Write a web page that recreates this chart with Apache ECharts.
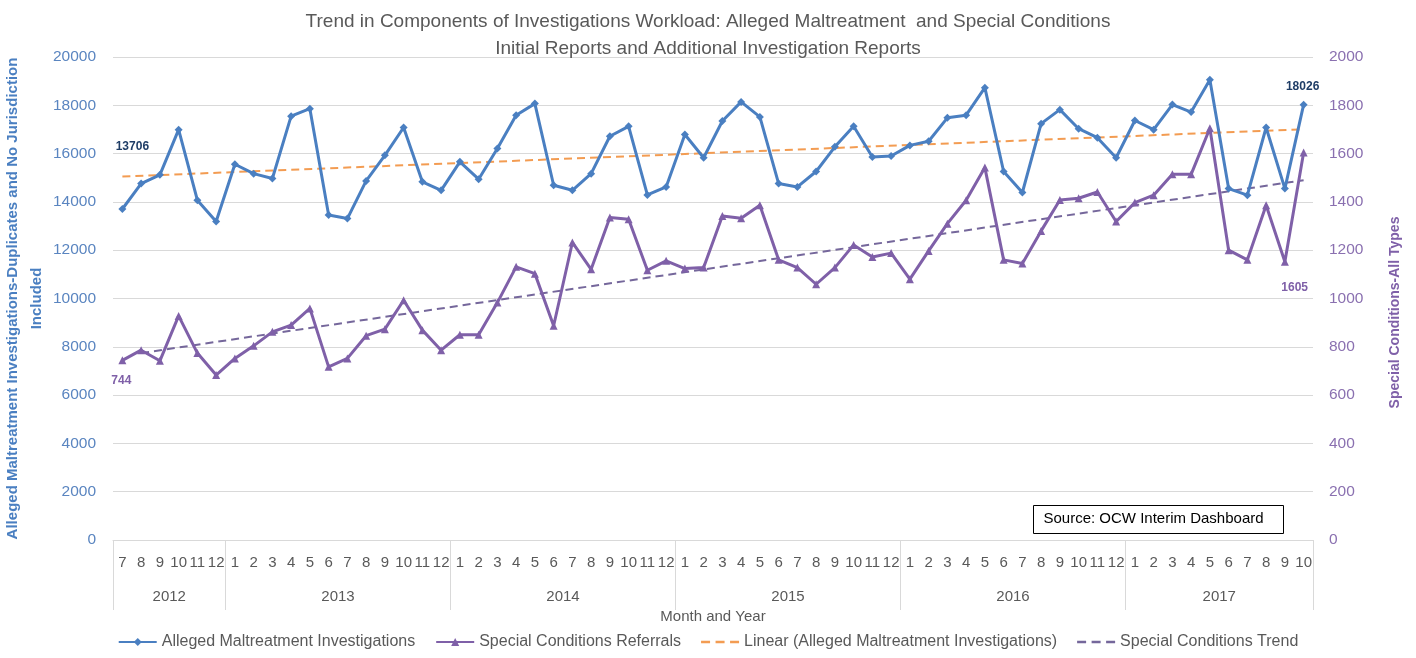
<!DOCTYPE html>
<html>
<head>
<meta charset="utf-8">
<title>Investigations Workload</title>
<script src="https://cdn.jsdelivr.net/npm/echarts@6/dist/echarts.min.js"></script>
<style>
	html, body { margin: 0; padding: 0; background: #fff; }
	#main { width: 1416px; height: 658px; }
</style>
</head>
<body>
<div id="main"></div>
<script>
var years = [ '2012', '2013', '2014', '2015', '2016', '2017' ];
var firstMonth = [ 7, 1, 1, 1, 1, 1 ];
var lastMonth = [ 12, 12, 12, 12, 12, 10 ];

var allegedData = [
	13706, 14760, 15120, 16990, 14070, 13190,
	15560, 15170, 14970, 17550, 17860, 13460, 13310, 14870, 15930, 17080, 14830, 14480,
	15660, 14940, 16210, 17590, 18070, 14690, 14480, 15170, 16720, 17130, 14290, 14620,
	16790, 15830, 17350, 18140, 17520, 14760, 14620, 15260, 16280, 17130, 15860, 15900,
	16340, 16510, 17480, 17590, 18730, 15260, 14390, 17240, 17820, 17030, 16660, 15830,
	17370, 16990, 18030, 17720, 19060, 14550, 14280, 17080, 14550, 18026 ];

var specialData = [
	744, 786, 742, 928, 774, 683,
	752, 804, 862, 890, 959, 717, 752, 846, 873, 993, 869, 786,
	850, 850, 983, 1131, 1103, 887, 1232, 1121, 1335, 1328, 1117, 1156,
	1124, 1128, 1342, 1332, 1386, 1160, 1128, 1059, 1128, 1222, 1172, 1188,
	1080, 1197, 1310, 1407, 1542, 1160, 1145, 1280, 1408, 1415, 1441, 1319,
	1397, 1428, 1514, 1514, 1705, 1200, 1160, 1386, 1152, 1605 ];

// trend lines: [index, value] at both ends
var allegedTrend = [ [ 0, 15050 ], [ 63, 17010 ] ];
var specialTrend = [ [ 1, 774 ], [ 63, 1490 ] ];

var blue = '#4a7fc1', purple = '#7f60a8', orange = '#f39c52', trendPurple = '#75679b';
var blueText = '#5a85c0', purpleText = '#8a70b0';
var textGray = '#595959', gridGray = '#d9d9d9';
var font = 'Liberation Sans, Arial, sans-serif';
var dashIcon = 'path://M0,0h9v2.4h-9z M14.5,0h9v2.4h-9z M29,0h9v2.4h-9z';

// month keys like 2012-7, and half-month slots for the year row
var monthKeys = [];
var slotKeys = [], yearAtSlot = {}, boundarySlots = {};
var count = 0;
for (var i = 0; i < years.length; i++) {
	var n = lastMonth[i] - firstMonth[i] + 1;
	for (var m = firstMonth[i]; m <= lastMonth[i]; m++) {
		monthKeys.push(years[i] + '-' + m);
	}
	boundarySlots[count * 2] = true;
	yearAtSlot[count * 2 + n] = years[i];
	count += n;
}
boundarySlots[count * 2] = true;
for (var s = 0; s <= count * 2; s++) {
	slotKeys.push('s' + s);
}

var withLabel = function(list, idx, offset, color) {
	var out = list.slice();
	out[idx] = {
		value : list[idx],
		label : {
			show : true,
			position : 'inside',
			offset : offset,
			color : color,
			fontWeight : 'bold',
			fontSize : 12,
			fontFamily : font,
			formatter : '{c}'
		}
	};
	return out;
};

var plainNumber = function(v) {
	return String(v);
};

var chart = echarts.init(document.getElementById('main'));
var option = {
	animation : false,
	backgroundColor : '#fff',
	title : {
		text : 'Trend in Components of Investigations Workload: Alleged Maltreatment  and Special Conditions\nInitial Reports and Additional Investigation Reports',
		left : 703,
		top : 3,
		textAlign : 'center',
		textStyle : {
			color : textGray,
			fontSize : 19,
			fontWeight : 'normal',
			fontFamily : font,
			lineHeight : 27,
			align : 'center'
		}
	},
	grid : {
		left : 113,
		right : 103,
		top : 57,
		bottom : 118,
		outerBoundsMode : 'none'
	},
	legend : {
		bottom : 3,
		left : 'center',
		itemWidth : 38,
		itemHeight : 10,
		itemGap : 20,
		textStyle : {
			color : textGray,
			fontSize : 16,
			fontFamily : font
		},
		data : [ {
			name : 'Alleged Maltreatment Investigations'
		}, {
			name : 'Special Conditions Referrals'
		}, {
			name : 'Linear (Alleged Maltreatment Investigations)',
			icon : dashIcon
		}, {
			name : 'Special Conditions Trend',
			icon : dashIcon
		} ]
	},
	xAxis : [ {
		type : 'category',
		data : monthKeys,
		boundaryGap : true,
		axisLine : {
			lineStyle : {
				color : gridGray
			}
		},
		axisTick : {
			show : false
		},
		axisLabel : {
			interval : 0,
			margin : 15,
			color : textGray,
			fontSize : 15,
			fontFamily : font,
			formatter : function(v) {
				return v.split('-')[1];
			}
		}
	}, {
		type : 'category',
		data : slotKeys,
		boundaryGap : false,
		position : 'bottom',
		axisLine : {
			show : false
		},
		axisTick : {
			show : true,
			length : 70,
			interval : function(idx) {
				return !!boundarySlots[idx];
			},
			lineStyle : {
				color : gridGray
			}
		},
		axisLabel : {
			interval : function(idx) {
				return yearAtSlot[idx] !== undefined;
			},
			margin : 49,
			color : textGray,
			fontSize : 15,
			fontFamily : font,
			formatter : function(v, idx) {
				return yearAtSlot[idx] || '';
			}
		},
		name : 'Month and Year',
		nameLocation : 'middle',
		nameGap : 66,
		nameTextStyle : {
			color : textGray,
			fontSize : 15,
			fontFamily : font
		}
	} ],
	yAxis : [ {
		type : 'value',
		min : 0,
		max : 20000,
		interval : 2000,
		axisLine : {
			show : false
		},
		axisTick : {
			show : false
		},
		splitLine : {
			lineStyle : {
				color : gridGray
			}
		},
		axisLabel : {
			margin : 17,
			color : blueText,
			fontSize : 15.5,
			fontFamily : font,
			formatter : plainNumber
		},
		name : 'Alleged Maltreatment Investigations-Duplicates and No Jurisdiction\nIncluded',
		nameLocation : 'middle',
		nameRotate : 90,
		nameGap : 64,
		nameMoveOverlap : false,
		nameTextStyle : {
			color : blue,
			fontSize : 15,
			fontWeight : 'bold',
			fontFamily : font,
			lineHeight : 24
		}
	}, {
		type : 'value',
		min : 0,
		max : 2000,
		interval : 200,
		position : 'right',
		axisLine : {
			show : false
		},
		axisTick : {
			show : false
		},
		splitLine : {
			show : false
		},
		axisLabel : {
			margin : 16,
			color : purpleText,
			fontSize : 15.5,
			fontFamily : font,
			formatter : plainNumber
		},
		name : 'Special Conditions-All Types',
		nameLocation : 'middle',
		nameRotate : 90,
		nameGap : 75,
		nameTextStyle : {
			color : purple,
			fontSize : 14,
			fontWeight : 'bold',
			fontFamily : font,
			padding : [ 0, 28, 0, 0 ]
		}
	} ],
	series : [ {
		name : 'Alleged Maltreatment Investigations',
		type : 'line',
		yAxisIndex : 0,
		data : withLabel(withLabel(allegedData, 0, [ 10, -62 ], '#1f3d66'),
				63, [ -1, -18 ], '#1f3d66'),
		symbol : 'diamond',
		symbolSize : 8,
		lineStyle : {
			color : blue,
			width : 3
		},
		itemStyle : {
			color : blue
		},
		z : 4
	}, {
		name : 'Special Conditions Referrals',
		type : 'line',
		yAxisIndex : 1,
		data : withLabel(withLabel(specialData, 0, [ -1, 20 ], purple), 63,
				[ -9, 135 ], purple),
		symbol : 'triangle',
		symbolSize : 8,
		lineStyle : {
			color : purple,
			width : 3
		},
		itemStyle : {
			color : purple
		},
		z : 4
	}, {
		name : 'Linear (Alleged Maltreatment Investigations)',
		type : 'line',
		yAxisIndex : 0,
		data : allegedTrend,
		symbol : 'none',
		lineStyle : {
			color : orange,
			width : 2,
			type : [ 8, 5 ]
		},
		itemStyle : {
			color : orange
		},
		z : 3
	}, {
		name : 'Special Conditions Trend',
		type : 'line',
		yAxisIndex : 1,
		data : specialTrend,
		symbol : 'none',
		lineStyle : {
			color : trendPurple,
			width : 2,
			type : [ 8, 5 ]
		},
		itemStyle : {
			color : trendPurple
		},
		z : 3
	} ],
	graphic : [ {
		type : 'group',
		left : 1033,
		top : 505,
		z : 10,
		children : [ {
			type : 'rect',
			shape : {
				x : 0,
				y : 0,
				width : 250,
				height : 28
			},
			style : {
				fill : '#fff',
				stroke : '#000',
				lineWidth : 1
			}
		}, {
			type : 'text',
			x : 10,
			y : 6,
			style : {
				text : 'Source: OCW Interim Dashboard',
				fill : '#000',
				fontSize : 15,
				fontFamily : font
			}
		} ]
	} ]
};
chart.setOption(option);
</script>
</body>
</html>
